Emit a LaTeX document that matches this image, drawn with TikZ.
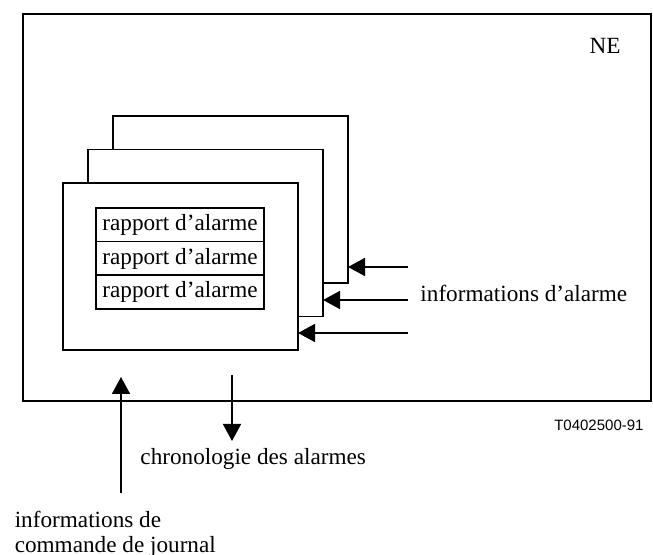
\documentclass[tikz,border=0pt]{standalone}
\usepackage{fontspec}
\setmainfont{Liberation Serif}
\newfontfamily\figsans{Liberation Sans}
\usetikzlibrary{arrows.meta}
\begin{document}
\begin{tikzpicture}[x=0.5pt, y=-0.5pt, line width=0.8pt,
    font=\fontsize{11.6}{14}\selectfont,
    frame/.style ={draw, fill=white, minimum width=117.5pt, minimum height=83.5pt, inner sep=0pt, outer sep=0pt},
    report/.style ={draw, minimum width=84pt, minimum height=16.8pt, inner sep=0pt, outer sep=0pt},
    flow/.style ={-{Triangle[length=8.5pt, width=9pt]}}]
   \useasboundingbox (0,0) rectangle (653,555);
   \node[draw, minimum width=314pt, minimum height=193.5pt, inner sep=0pt] (NE) at (337,207.5) {};
   \node (ne) at (605,46) {NE};
   \node[frame] (back) at (230.5,199.5) {};
   \node[frame] (middle) at (205.5,233) {};
   \node[frame] (front) at (180.5,266.5) {};
   \node[report] (r1) at (180,224.8) {rapport d'alarme};
   \node[report] (r2) at (180,258.5) {rapport d'alarme};
   \node[report] (r3) at (180,292.2) {rapport d'alarme};
   \coordinate (a1) at (408,267);
   \coordinate (a2) at (408,300);
   \coordinate (a3) at (408,333);
   \draw[flow] (a1) to (a1 -| back.east);
   \draw[flow] (a2) to (a2 -| middle.east);
   \draw[flow] (a3) to (a3 -| front.east);
   \node[anchor=west] (info) at (413,293) {informations d'alarme};
   \node[anchor=east, font=\figsans\fontsize{7.5}{9}\selectfont] (ref) at (651,425) {T0402500-91};
   \coordinate (out) at (232,375);
   \node[anchor=west] (chrono) at (133,459) {chronologie des alarmes};
   \draw[flow] (out) to (out |- chrono.north);
   \node[anchor=north west, align=left, inner sep=2pt, font=\fontsize{11.6}{12.5}\selectfont] (cmd) at (10,506) {informations de\\commande de journal};
   \coordinate (in) at (121,493);
   \draw[flow] (in) to (121,377);
\end{tikzpicture}
\end{document}
